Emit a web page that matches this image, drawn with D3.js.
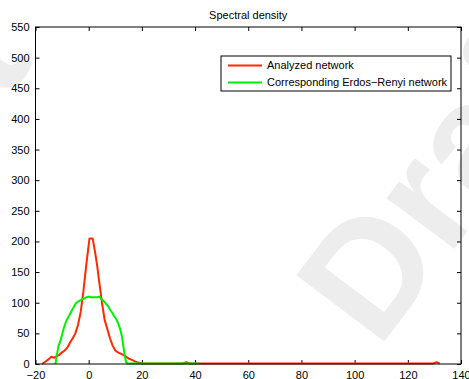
<!DOCTYPE html>
<html>
<head>
<meta charset="utf-8">
<script src="https://cdn.jsdelivr.net/npm/d3@7"></script>
<style>
  body { margin: 0; background: #fff; }
  svg { display: block; font-family: "Liberation Sans", Arial, sans-serif; }
  .tick text { font-size: 11px; fill: #000; }
</style>
</head>
<body>
<svg id="chart"></svg>
<script>
// spectral density data
const analyzedX = [-17.5, -16.2, -15, -14, -13, -12, -11, -10, -9, -8, -7, -6, -5, -4, -3, -2, -1, 0.3, 1.5, 2.5, 3.2, 4, 5, 6, 7, 8, 9, 10, 11, 12, 13, 14, 15, 16, 17, 18, 19, 20, 22, 35.5, 36.7, 38, 129.5, 130.8, 132];
const analyzedY = [0, 4, 8, 12, 10, 13, 15, 19, 22, 27, 35, 42, 50, 64, 85, 118, 158, 205, 205, 180, 160, 133, 100, 72, 57, 42, 30, 22, 19, 17, 15, 12, 9, 7, 5, 3, 2, 1, 1, 1, 3, 1, 1, 3, 1];

const erdosX = [-12.5, -12, -11.3, -10.6, -10, -9.4, -8.7, -8, -7.2, -6.5, -5.6, -4.8, -4, -3.2, -2.4, -1.6, -0.8, 0, 0.8, 1.6, 2.4, 3.2, 4, 4.8, 5.6, 6.4, 7.2, 8, 8.8, 9.6, 10.4, 11.2, 11.9, 12.5, 13, 13.5, 14, 14.5, 41.6];
const erdosY = [0, 14, 30, 38, 48, 58, 67, 74, 80, 86, 93, 99, 102, 104, 106, 107, 109, 110, 109, 109, 109, 109, 110, 106, 103, 99, 95, 89, 84, 78, 73, 65, 56, 45, 30, 15, 4, 1, 1];

const xTicks = [-20, 0, 20, 40, 60, 80, 100, 120, 140];
const yTicks = [0, 50, 100, 150, 200, 250, 300, 350, 400, 450, 500, 550];
const seriesNames = ["Analyzed network", "Corresponding Erdos\u2212Renyi network"];
const seriesColors = ["#ff2a00", "#00ee00"];

const W = 469, H = 379;
const margin = {top: 27, right: 8, bottom: 15, left: 35.5};
const width = W - margin.left - margin.right;
const height = H - margin.top - margin.bottom;

const svgElem = d3.select("#chart").attr("width", W).attr("height", H);

// faint watermark behind the plot
svgElem.append("text")
    .attr("transform", "translate(378,350) rotate(-53)")
    .attr("font-size", 160)
    .attr("font-weight", "bold")
    .attr("fill", "#ededed")
    .text("Draft");
svgElem.append("text")
    .attr("transform", "translate(-190,360) rotate(-53)")
    .attr("font-size", 160)
    .attr("font-weight", "bold")
    .attr("fill", "#ededed")
    .text("Draft");

const svg = svgElem.append("g").attr("transform", `translate(${margin.left},${margin.top})`);

const xScale = d3.scaleLinear().domain([-20, 140]).range([0, width]);
const yScale = d3.scaleLinear().domain([0, 550]).range([height, 0]);

const fmt = d => d < 0 ? "\u2212" + Math.abs(d) : String(d);

// white plot area, then axes with ticks pointing inward, mirrored on top/right
svg.append("rect")
    .attr("width", width).attr("height", height)
    .attr("fill", "#fff").attr("fill-opacity", 0);

svg.append("g")
    .attr("class", "x-axis")
    .attr("transform", `translate(0,${height})`)
    .call(d3.axisBottom(xScale).tickValues(xTicks).tickSize(-4).tickPadding(7).tickFormat(fmt))
    .call(g => g.select(".domain").remove());
svg.append("g")
    .call(d3.axisTop(xScale).tickValues(xTicks).tickSize(-4).tickFormat(""))
    .call(g => g.select(".domain").remove());
svg.append("g")
    .attr("class", "y-axis")
    .call(d3.axisLeft(yScale).tickValues(yTicks).tickSize(-4).tickPadding(6).tickFormat(fmt))
    .call(g => g.select(".domain").remove());
svg.append("g")
    .attr("transform", `translate(${width},0)`)
    .call(d3.axisRight(yScale).tickValues(yTicks).tickSize(-4).tickFormat(""))
    .call(g => g.select(".domain").remove());

svg.selectAll(".tick line").attr("stroke", "#000");

const line = d3.line().x(d => xScale(d[0])).y(d => yScale(d[1]));

const series = [
    d3.zip(analyzedX, analyzedY),
    d3.zip(erdosX, erdosY)
];

svg.selectAll("path.series")
    .data(series)
    .enter().append("path")
    .attr("class", "series")
    .attr("d", line)
    .attr("fill", "none")
    .attr("stroke", (d, i) => seriesColors[i])
    .attr("stroke-width", 2)
    .attr("stroke-linejoin", "round");

// plot frame
svg.append("rect")
    .attr("width", width).attr("height", height)
    .attr("fill", "none").attr("stroke", "#000").attr("stroke-width", 1);

// title
svgElem.append("text")
    .attr("x", margin.left + width / 2)
    .attr("y", 19)
    .attr("text-anchor", "middle")
    .attr("font-size", 11)
    .text("Spectral density");

// legend
const legend = svgElem.append("g").attr("transform", "translate(221,56)");
legend.append("rect")
    .attr("width", 230).attr("height", 35)
    .attr("fill", "#fff").attr("stroke", "#000").attr("stroke-width", 1);
const rows = legend.selectAll("g.row")
    .data(seriesNames)
    .enter().append("g")
    .attr("class", "row")
    .attr("transform", (d, i) => `translate(0,${9.5 + i * 17})`);
rows.append("line")
    .attr("x1", 7).attr("x2", 41)
    .attr("stroke", (d, i) => seriesColors[i])
    .attr("stroke-width", 2);
rows.append("text")
    .attr("x", 46).attr("dy", "0.36em")
    .attr("font-size", 11)
    .text(d => d);
</script>
</body>
</html>
